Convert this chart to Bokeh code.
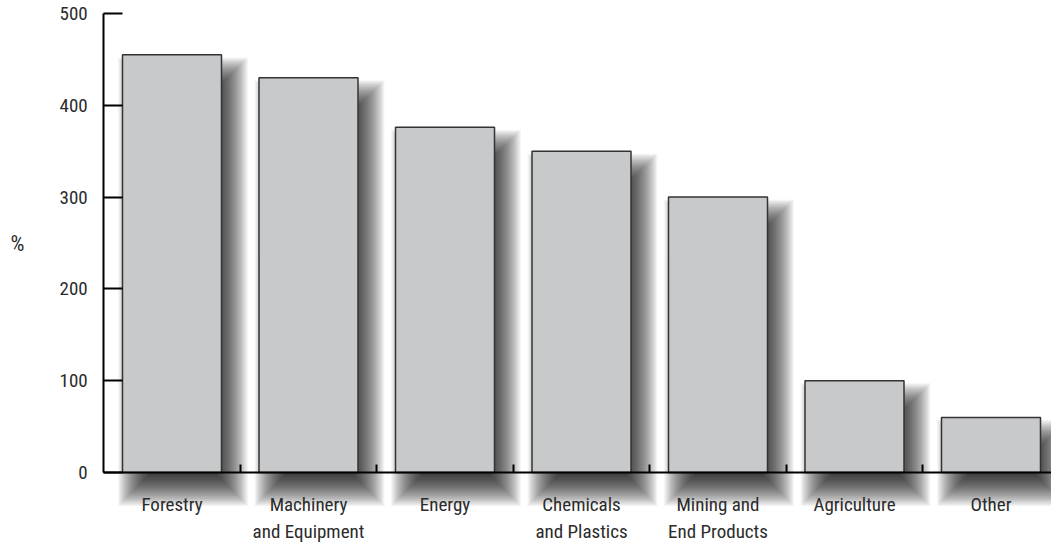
import numpy as np
from bokeh.plotting import figure
from bokeh.models import FixedTicker, ColumnDataSource, Label
from bokeh.embed import file_html
from bokeh.resources import INLINE

categories = ["Forestry", "Machinery\nand Equipment", "Energy", "Chemicals\nand Plastics",
              "Mining and\nEnd Products", "Agriculture", "Other"]
values = [455, 430, 376, 350, 300, 100, 60]
y_ticks = [0, 100, 200, 300, 400, 500]
y_label = "%"

FONT = "'Roboto Condensed', 'Liberation Sans Narrow', Roboto"
FS = "19px"
TEXT_COLOR = "#2b2b2b"

xs = np.arange(len(categories), dtype=float)
vals = np.array(values, dtype=float)

W, H = 1051, 542
px_per_x = 136.5
px_per_y = 459 / 500.0
x0_px = 171.5          # centre of first category
base_px = 472          # y = 0
top_px = 13            # y = 500

x_start = -x0_px / px_per_x
x_end = (W - x0_px) / px_per_x
p = figure(width=W, height=H, output_backend="svg", toolbar_location=None,
           x_range=(x_start, x_end),
           y_range=(-(H - base_px) / px_per_y, 500 + top_px / px_per_y),
           min_border_left=0, min_border_right=0, min_border_top=0, min_border_bottom=0,
           background_fill_color="white", border_fill_color="white")
p.outline_line_color = None
p.grid.visible = False

# soft drop shadow, built from layered translucent quads
bar_w = 99 / px_per_x
dx, dy, blur = 11.0, 18.0, 16.0
n = 26
for k in range(n):
    e = -blur + (2 * blur) * (k + 0.5) / n
    src = ColumnDataSource(dict(
        left=xs - bar_w / 2 + (dx - e) / px_per_x,
        right=xs + bar_w / 2 + (dx + e) / px_per_x,
        top=vals - (dy - e) / px_per_y,
        bottom=np.zeros_like(vals) - (dy + e) / px_per_y,
    ))
    p.quad(left="left", right="right", top="top", bottom="bottom", source=src,
           fill_color="black", fill_alpha=0.046, line_color=None)

p.vbar(x=xs, top=vals, bottom=0, width=bar_w, fill_color="#c8c9cb",
       line_color="#333333", line_width=1.5)

# y axis, drawn inside the frame at the left edge of the first category
ya = p.yaxis[0]
ya.fixed_location = -0.5
ya.ticker = FixedTicker(ticks=y_ticks)
ya.bounds = (0, 500)
ya.axis_line_width = 2
ya.axis_line_color = "black"
ya.major_tick_in = 19
ya.major_tick_out = 0
ya.major_tick_line_width = 2
ya.major_tick_line_color = "black"
ya.minor_tick_line_color = None
ya.major_label_standoff = 16
ya.major_label_text_font = FONT
ya.major_label_text_font_size = FS
ya.major_label_text_color = TEXT_COLOR

p.add_layout(Label(x=10, x_units="screen", y=250, text=y_label, text_font=FONT,
                   text_font_size="22px", text_color=TEXT_COLOR, text_baseline="middle"))

# x axis
xa = p.xaxis[0]
xa.fixed_location = 0
xa.bounds = (-0.5, x_end)
xa.ticker = FixedTicker(ticks=list(xs), minor_ticks=list(xs[:-1] + 0.5))
overrides = {float(x): c for x, c in zip(xs, categories)}
overrides.update({int(x): c for x, c in zip(xs, categories)})
xa.major_label_overrides = overrides
xa.axis_line_width = 2
xa.axis_line_color = "black"
xa.major_tick_in = 0
xa.major_tick_out = 0
xa.minor_tick_in = 8
xa.minor_tick_out = 0
xa.minor_tick_line_width = 2
xa.minor_tick_line_color = "black"
xa.major_label_standoff = 20
xa.major_label_text_font = FONT
xa.major_label_text_font_size = FS
xa.major_label_text_color = TEXT_COLOR

open("out.html", "w").write(file_html(p, INLINE))
